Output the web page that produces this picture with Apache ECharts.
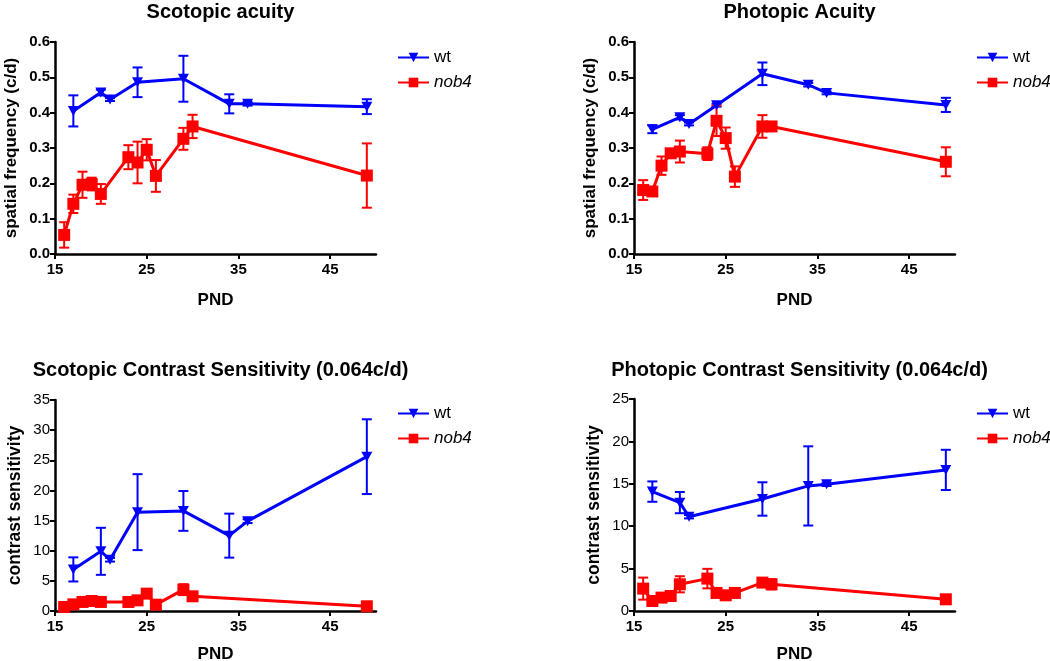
<!DOCTYPE html>
<html>
<head>
<meta charset="utf-8">
<script src="https://cdn.jsdelivr.net/npm/echarts@6/dist/echarts.min.js"></script>
<style>
  html, body { margin: 0; padding: 0; background: #fff; }
  #main { width: 1050px; height: 661px; }
</style>
</head>
<body>
<div id="main"></div>
<script>
// x ticks shared by all four panels
const xTicks = [15, 25, 35, 45];

// Scotopic acuity
const scotAcuWtDays = [17, 20, 21, 24, 29, 34, 36, 49];
const scotAcuWt = [0.405, 0.457, 0.437, 0.486, 0.496, 0.425, 0.425, 0.417];
const scotAcuWtErr = [0.044, 0.008, 0.004, 0.042, 0.065, 0.027, 0.005, 0.021];
const scotAcuNobDays = [16, 17, 18, 19, 20, 23, 24, 25, 26, 29, 30, 49];
const scotAcuNob = [0.054, 0.142, 0.196, 0.198, 0.170, 0.274, 0.259, 0.295, 0.221, 0.326, 0.361, 0.222];
const scotAcuNobErr = [0.036, 0.026, 0.037, 0.018, 0.028, 0.034, 0.059, 0.030, 0.045, 0.031, 0.033, 0.091];

// Photopic acuity
const photAcuWtDays = [17, 20, 21, 24, 29, 34, 36, 49];
const photAcuWt = [0.353, 0.387, 0.368, 0.421, 0.510, 0.479, 0.456, 0.422];
const photAcuWtErr = [0.011, 0.006, 0.004, 0.004, 0.032, 0.005, 0.004, 0.020];
const photAcuNobDays = [16, 17, 18, 19, 20, 23, 24, 25, 26, 29, 30, 49];
const photAcuNob = [0.181, 0.177, 0.250, 0.285, 0.290, 0.284, 0.377, 0.328, 0.219, 0.361, 0.361, 0.261];
const photAcuNobErr = [0.028, 0.006, 0.026, 0.008, 0.031, 0.018, 0.043, 0.030, 0.029, 0.032, 0.006, 0.041];

// Scotopic contrast sensitivity
const scotCsWtDays = [17, 20, 21, 24, 29, 34, 36, 49];
const scotCsWt = [6.9, 9.9, 8.5, 16.4, 16.6, 12.5, 14.9, 25.6];
const scotCsWtErr = [2.0, 3.9, 0.3, 6.3, 3.3, 3.65, 0.3, 6.2];
const scotCsNobDays = [16, 17, 18, 19, 20, 23, 24, 25, 26, 29, 30, 49];
const scotCsNob = [0.66, 1.1, 1.5, 1.66, 1.5, 1.5, 1.77, 2.88, 1.05, 3.54, 2.44, 0.78];
const scotCsNobErr = [0.1, 0.1, 0.1, 0.1, 0.1, 0.1, 0.2, 0.4, 0.1, 0.9, 0.2, 0.1];

// Photopic contrast sensitivity
const photCsWtDays = [17, 20, 21, 29, 34, 36, 49];
const photCsWt = [14.08, 12.78, 11.12, 13.21, 14.75, 14.94, 16.64];
const photCsWtErr = [1.2, 1.25, 0.2, 1.97, 4.67, 0.2, 2.37];
const photCsNobDays = [16, 17, 18, 19, 20, 23, 24, 25, 26, 29, 30, 49];
const photCsNob = [2.64, 1.18, 1.58, 1.77, 3.15, 3.82, 2.13, 1.85, 2.13, 3.35, 3.15, 1.38];
const photCsNobErr = [1.3, 0.1, 0.1, 0.1, 0.95, 1.15, 0.2, 0.1, 0.1, 0.3, 0.6, 0.1];

const BLUE = '#0000ff';
const RED = '#ff0000';
const FONT = '"Liberation Sans", Arial, sans-serif';

const panels = [
  { title: 'Scotopic acuity', yName: 'spatial frequency (c/d)', yMax: 0.6, yInt: 0.1, dec: 1, top3: true,
    wt: [scotAcuWtDays, scotAcuWt, scotAcuWtErr], nob: [scotAcuNobDays, scotAcuNob, scotAcuNobErr],
    left: 55, top: 42, height: 212, titleTop: -3, legendTop: 49 },
  { title: 'Photopic Acuity', yName: 'spatial frequency (c/d)', yMax: 0.6, yInt: 0.1, dec: 1, top3: true,
    wt: [photAcuWtDays, photAcuWt, photAcuWtErr], nob: [photAcuNobDays, photAcuNob, photAcuNobErr],
    left: 634, top: 42, height: 212, titleTop: -3, legendTop: 49 },
  { title: 'Scotopic Contrast Sensitivity (0.064c/d)', yName: 'contrast sensitivity', yMax: 35, yInt: 5, dec: 0, top3: false,
    wt: [scotCsWtDays, scotCsWt, scotCsWtErr], nob: [scotCsNobDays, scotCsNob, scotCsNobErr],
    left: 55, top: 400, height: 211, titleTop: 355, legendTop: 405 },
  { title: 'Photopic Contrast Sensitivity (0.064c/d)', yName: 'contrast sensitivity', yMax: 25, yInt: 5, dec: 0, top3: false,
    wt: [photCsWtDays, photCsWt, photCsWtErr], nob: [photCsNobDays, photCsNob, photCsNobErr],
    left: 634, top: 399, height: 212, titleTop: 355, legendTop: 405 }
];

const PLOT_W = 321;

// draws vertical error bar with caps
function errRender(params, api) {
  const x = api.value(0);
  const lo = api.coord([x, api.value(1)]);
  const hi = api.coord([x, api.value(2)]);
  const w = 5;
  const style = { stroke: api.visual('color'), lineWidth: 2 };
  return {
    type: 'group',
    children: [
      { type: 'line', shape: { x1: lo[0], y1: lo[1], x2: hi[0], y2: hi[1] }, style: style },
      { type: 'line', shape: { x1: lo[0] - w, y1: lo[1], x2: lo[0] + w, y2: lo[1] }, style: style },
      { type: 'line', shape: { x1: hi[0] - w, y1: hi[1], x2: hi[0] + w, y2: hi[1] }, style: style }
    ]
  };
}

const option = {
  animation: false,
  backgroundColor: '#fff',
  textStyle: { fontFamily: FONT },
  title: [], grid: [], xAxis: [], yAxis: [], legend: [], series: []
};

panels.forEach(function (p, i) {
  option.title.push({
    text: p.title,
    left: p.left + PLOT_W / 2,
    textAlign: 'center',
    top: p.titleTop,
    textStyle: { fontFamily: FONT, fontSize: 20, fontWeight: 'bold', color: '#000' }
  });
  option.grid.push({ left: p.left, top: p.top, width: PLOT_W, height: p.height, outerBoundsMode: 'none' });
  option.xAxis.push({
    gridIndex: i, type: 'value', min: 15, max: 50, interval: 10,
    name: 'PND', nameLocation: 'middle', nameGap: p.top3 ? 38 : 35,
    nameTextStyle: { fontFamily: FONT, fontSize: 17, fontWeight: 'bold', color: '#000' },
    axisLine: { lineStyle: { color: '#000', width: 2.5 } },
    axisTick: { customValues: xTicks, length: 5, lineStyle: { color: '#000', width: 2 } },
    axisLabel: { customValues: xTicks, margin: 8, fontFamily: FONT, fontSize: 15, fontWeight: 'bold', color: '#000' },
    splitLine: { show: false }
  });
  option.yAxis.push({
    gridIndex: i, type: 'value', min: 0, max: p.yMax, interval: p.yInt,
    name: p.yName, nameLocation: 'middle', nameGap: p.top3 ? 35 : 31,
    nameTextStyle: { fontFamily: FONT, fontSize: p.top3 ? 17 : 17.5, fontWeight: 'bold', color: '#000' },
    axisLine: { show: true, lineStyle: { color: '#000', width: 2.5 } },
    axisTick: { show: true, length: 5, lineStyle: { color: '#000', width: 2 } },
    axisLabel: {
      margin: 5, fontFamily: FONT, fontSize: 15, fontWeight: p.top3 ? 'bold' : 'normal', color: '#000',
      formatter: function (v) { return v.toFixed(p.dec); }
    },
    splitLine: { show: false }
  });
  option.legend.push({
    data: ['wt', 'nob4'],
    orient: 'vertical',
    left: p.left + PLOT_W + 21,
    top: p.legendTop,
    padding: 0,
    itemWidth: 31, itemHeight: 12, itemGap: 8,
    selectedMode: false,
    textStyle: { fontFamily: FONT, fontSize: 17, color: '#000', rich: { i: { fontStyle: 'italic', fontSize: 17, fontFamily: FONT } } },
    formatter: function (name) { return name === 'nob4' ? '{i|nob4}' : name; }
  });

  [['wt', p.wt, BLUE, 'triangle', 180, [11, 10]], ['nob4', p.nob, RED, 'rect', 0, 12]].forEach(function (s) {
    const days = s[1][0], vals = s[1][1], errs = s[1][2];
    option.series.push({
      type: 'custom',
      name: s[0] + '-err-' + i,
      xAxisIndex: i, yAxisIndex: i,
      itemStyle: { color: s[2] },
      renderItem: errRender,
      encode: { x: 0, y: [1, 2] },
      data: days.map(function (d, k) { return [d, vals[k] - errs[k], vals[k] + errs[k]]; }),
      z: 2
    });
    option.series.push({
      type: 'line',
      name: s[0],
      xAxisIndex: i, yAxisIndex: i,
      data: days.map(function (d, k) { return [d, vals[k]]; }),
      symbol: s[3], symbolRotate: s[4], symbolSize: s[5],
      showAllSymbol: true,
      lineStyle: { color: s[2], width: 3 },
      itemStyle: { color: s[2] },
      z: 3
    });
  });
});

const chart = echarts.init(document.getElementById('main'));
chart.setOption(option);
</script>
</body>
</html>
